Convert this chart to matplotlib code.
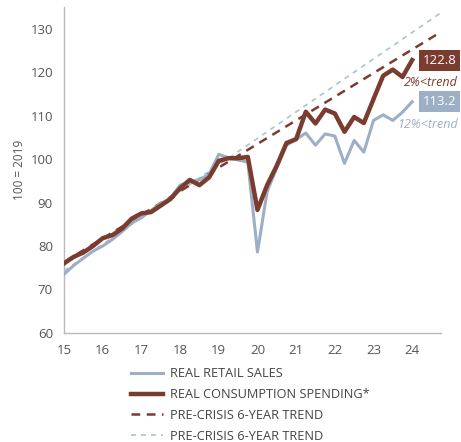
import numpy as np
import matplotlib
matplotlib.use("Agg")
import matplotlib.pyplot as plt

plt.rcParams['font.family'] = ['Open Sans', 'DejaVu Sans']

# quarterly index values, 100 = 2019, first point is 2015Q1
retail = [73.5, 75.5, 77.2, 78.8, 80.0, 81.5, 83.3, 85.3, 86.5, 88.2,
          89.8, 91.0, 94.0, 94.7, 95.3, 96.5, 101.1, 100.3, 99.8, 99.3,
          78.6, 92.5, 98.0, 103.2, 104.5, 106.0, 103.2, 105.8, 105.3, 99.0,
          104.3, 101.6, 108.9, 110.2, 108.9, 110.8, 113.2]
consumption = [76.0, 77.5, 78.5, 80.0, 81.8, 82.5, 84.0, 86.3, 87.5, 87.8,
               89.3, 90.8, 93.3, 95.2, 94.0, 95.8, 99.6, 100.2, 100.2, 100.5,
               88.3, 94.0, 98.5, 103.7, 104.6, 110.9, 108.2, 111.4, 110.5, 106.3,
               109.7, 108.3, 113.8, 119.2, 120.6, 118.9, 122.8]
start_year = 15

# trend lines: (start, end) years and values
trend_years = [15, 24.73]
trend_consumption = [76.3, 129.2]
trend_retail = [74.3, 133.6]

gap_labels = ["2%<trend", "12%<trend"]
legend_labels = ["REAL RETAIL SALES", "REAL CONSUMPTION SPENDING*",
                 "PRE-CRISIS 6-YEAR TREND", "PRE-CRISIS 6-YEAR TREND"]

brown = '#7b3c30'
blue = '#9cafc6'
light_blue = '#a9c3d8'
grey_txt = '#555555'

x = start_year + np.arange(len(retail)) / 4

fig = plt.figure(figsize=(4.61, 4.42), dpi=100)
ax = fig.add_axes([0.139, 0.247, 0.818, 0.737])

l4, = ax.plot(trend_years, trend_retail, color=light_blue, lw=1.2, ls=(0, (3, 3)), zorder=1)
l3, = ax.plot(trend_years, trend_consumption, color=brown, lw=1.8, ls=(0, (3.5, 2.6)), zorder=2)
l1, = ax.plot(x, retail, color=blue, lw=2.2, zorder=3)
l2, = ax.plot(x, consumption, color=brown, lw=3.2, zorder=4)

ax.set_xlim(15, 24.75)
ax.set_ylim(60, 135)
ax.set_xticks(range(15, 25))
ax.set_yticks(range(60, 131, 10))
ax.tick_params(length=0, labelsize=9.5, labelcolor=grey_txt, pad=8)
for s in ['top', 'right']:
    ax.spines[s].set_visible(False)
for s in ['left', 'bottom']:
    ax.spines[s].set_color('#bbbbbb')
    ax.spines[s].set_linewidth(1)
ax.set_ylabel("100 = 2019", fontsize=8.5, color=grey_txt, labelpad=3)

# end-of-series value boxes and gap-to-trend notes
for vals, col, gap in [(consumption, brown, gap_labels[0]), (retail, blue, gap_labels[1])]:
    ax.annotate(f"{vals[-1]:.1f}", xy=(x[-1], vals[-1]), xytext=(7.5, 0),
                textcoords='offset points', ha='left', va='center', color='white',
                fontsize=9.5, annotation_clip=False,
                bbox=dict(boxstyle='square,pad=0.3', fc=col, ec='none'))
    ax.annotate(gap, xy=(x[-1], vals[-1]), xytext=(33, -16.5),
                textcoords='offset points', ha='right', va='center', color=col,
                fontsize=9, style='italic', annotation_clip=False)

fig.legend([l1, l2, l3, l4], legend_labels, loc='upper left',
           bbox_to_anchor=(0.271, 0.184), frameon=False, fontsize=9.2,
           handlelength=2.5, handletextpad=0.5, labelspacing=0.62,
           borderpad=0, labelcolor='#444444')

fig.savefig("out.png", dpi=100)
